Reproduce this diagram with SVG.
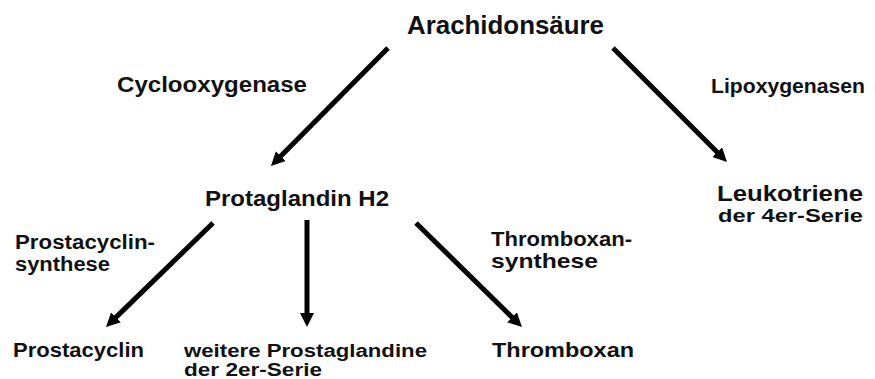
<svg xmlns="http://www.w3.org/2000/svg" width="875" height="379" viewBox="0 0 875 379">
<style>
  text { font-family: "Liberation Sans", Arial, sans-serif; font-weight: bold; fill: #111; }
  .arr { stroke: #000; stroke-width: 5; fill: none; marker-end: url(#ah); }
</style>
<defs>
  <marker id="ah" markerUnits="userSpaceOnUse" viewBox="0 0 14 14" markerWidth="14" markerHeight="14" refX="2" refY="7" orient="auto">
    <path d="M0,0 L14,7 L0,14 z" fill="#000"/>
  </marker>
</defs>
<rect width="875" height="379" fill="#fff"/>
<g id="connectors">
  <line class="arr" x1="388" y1="48" x2="279.4" y2="157.5"/>
  <line class="arr" x1="613" y1="48" x2="718.5" y2="153.5"/>
  <line class="arr" x1="213" y1="223" x2="114.6" y2="318.6"/>
  <line class="arr" x1="307" y1="220" x2="307" y2="315"/>
  <line class="arr" x1="416" y1="223" x2="513.4" y2="318.6"/>
  <text x="117" y="92" font-size="22" textLength="190" lengthAdjust="spacingAndGlyphs">Cyclooxygenase</text>
  <text x="711" y="93" font-size="20" textLength="154" lengthAdjust="spacingAndGlyphs">Lipoxygenasen</text>
  <text x="15" y="249" font-size="20" textLength="140" lengthAdjust="spacingAndGlyphs">Prostacyclin-</text>
  <text x="15" y="271" font-size="20" textLength="95" lengthAdjust="spacingAndGlyphs">synthese</text>
  <text x="491" y="246" font-size="21" textLength="141" lengthAdjust="spacingAndGlyphs">Thromboxan-</text>
  <text x="491" y="268" font-size="21" textLength="107" lengthAdjust="spacingAndGlyphs">synthese</text>
</g>
<g id="arachidonsaeure">
  <text x="407" y="34" font-size="25" textLength="197" lengthAdjust="spacingAndGlyphs">Arachidonsäure</text>
</g>
<g id="prostaglandin-h2">
  <text x="205" y="206" font-size="22" textLength="184" lengthAdjust="spacingAndGlyphs">Protaglandin H2</text>
</g>
<g id="leukotriene">
  <text x="717" y="201" font-size="22" textLength="146" lengthAdjust="spacingAndGlyphs">Leukotriene</text>
  <text x="718" y="222" font-size="19" textLength="145" lengthAdjust="spacingAndGlyphs">der 4er-Serie</text>
</g>
<g id="prostacyclin">
  <text x="13" y="357" font-size="21" textLength="131" lengthAdjust="spacingAndGlyphs">Prostacyclin</text>
</g>
<g id="weitere-prostaglandine">
  <text x="184" y="357" font-size="18" textLength="243" lengthAdjust="spacingAndGlyphs">weitere Prostaglandine</text>
  <text x="184" y="376" font-size="18" textLength="138" lengthAdjust="spacingAndGlyphs">der 2er-Serie</text>
</g>
<g id="thromboxan">
  <text x="492" y="357" font-size="21" textLength="142" lengthAdjust="spacingAndGlyphs">Thromboxan</text>
</g>
</svg>
